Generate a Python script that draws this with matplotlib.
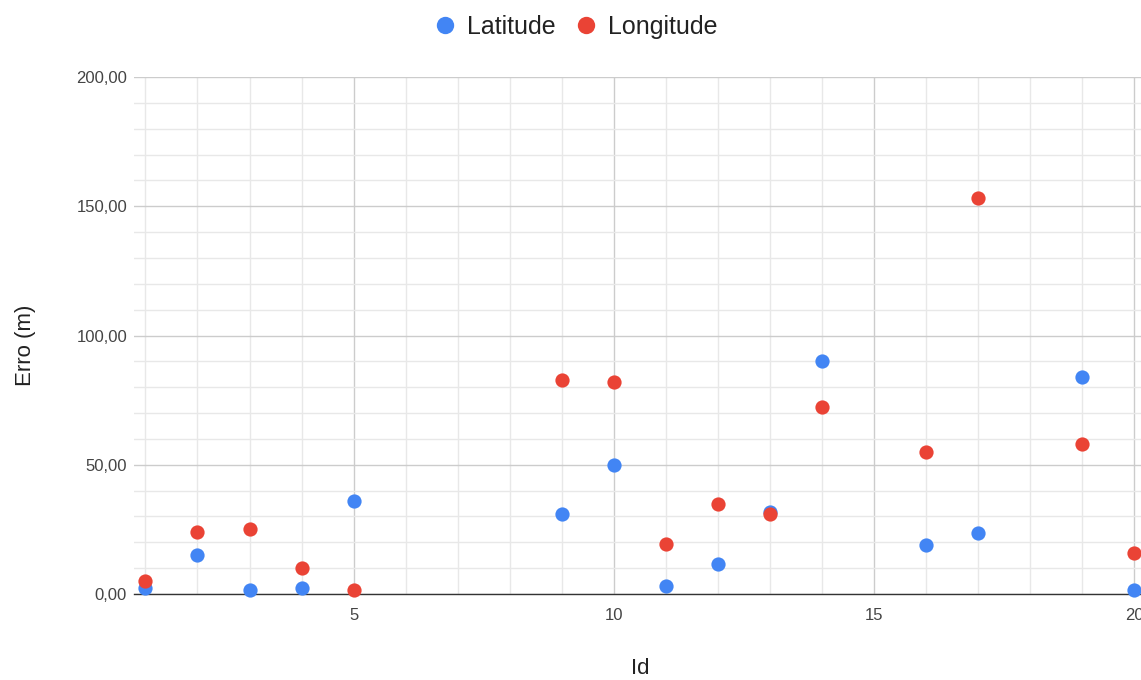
import matplotlib.pyplot as plt
from matplotlib.ticker import MultipleLocator, FuncFormatter
from matplotlib.lines import Line2D

plt.rcParams['font.family'] = ['Liberation Sans', 'DejaVu Sans']

# values
ids = [1, 2, 3, 4, 5, 9, 10, 11, 12, 13, 14, 16, 17, 19, 20]
latitude = [2.4, 15.1, 1.5, 2.2, 35.8, 30.9, 49.8, 3.2, 11.5, 31.8, 90.2, 18.9, 23.7, 83.8, 1.5]
longitude = [5.2, 24.0, 25.3, 10.1, 1.7, 82.9, 82.0, 19.3, 34.7, 30.9, 72.4, 54.8, 153.0, 58.0, 16.0]

blue = '#4285F4'
red = '#EA4335'

W, H = 1141, 680
fig = plt.figure(figsize=(W / 100, H / 100), dpi=100)
# axes box in pixels: left 134, right 1141, top 77, bottom 594
ax = fig.add_axes([134 / W, 1 - 594 / H, (1141 - 134) / W, (594 - 77) / H])

ax.scatter(ids, latitude, s=105, color=blue, zorder=3, linewidths=0, clip_on=False)
ax.scatter(ids, longitude, s=105, color=red, zorder=4, linewidths=0, clip_on=False)

ax.set_xlim(0.78, 20.13)
ax.set_ylim(0, 200)

ax.xaxis.set_major_locator(MultipleLocator(5))
ax.xaxis.set_minor_locator(MultipleLocator(1))
ax.yaxis.set_major_locator(MultipleLocator(50))
ax.yaxis.set_minor_locator(MultipleLocator(10))
ax.yaxis.set_major_formatter(FuncFormatter(lambda v, p: f'{v:.2f}'.replace('.', ',')))

ax.grid(which='major', color='#cccccc', linewidth=1.0, zorder=0)
ax.grid(which='minor', color='#e8e8e8', linewidth=1.0, zorder=0)
ax.set_axisbelow(True)

for s in ['top', 'right', 'left']:
    ax.spines[s].set_visible(False)
ax.spines['bottom'].set_color('#333333')
ax.spines['bottom'].set_linewidth(1.0)
ax.spines['bottom'].set_zorder(2)

ax.tick_params(which='both', length=0)
ax.tick_params(axis='y', labelsize=12, labelcolor='#444444', pad=5)
ax.tick_params(axis='x', labelsize=12, labelcolor='#444444', pad=10)

fig.text(640 / W, 1 - 668 / H, 'Id', fontsize=16, color='#222222', ha='center', va='center')
fig.text(25 / W, 1 - 345 / H, 'Erro (m)', fontsize=16, color='#222222', ha='center', va='center',
         rotation=90)

handles = [
    Line2D([], [], marker='o', linestyle='', markersize=12.5, color=blue, markeredgewidth=0),
    Line2D([], [], marker='o', linestyle='', markersize=12.5, color=red, markeredgewidth=0),
]
fig.legend(handles, ['Latitude', 'Longitude'], loc='center', bbox_to_anchor=(575 / W, 1 - 27 / H),
           ncol=2, frameon=False, fontsize=18, handletextpad=0.35, columnspacing=0.75,
           handlelength=1.0, labelcolor='#222222')

fig.savefig('out.png', dpi=100)
